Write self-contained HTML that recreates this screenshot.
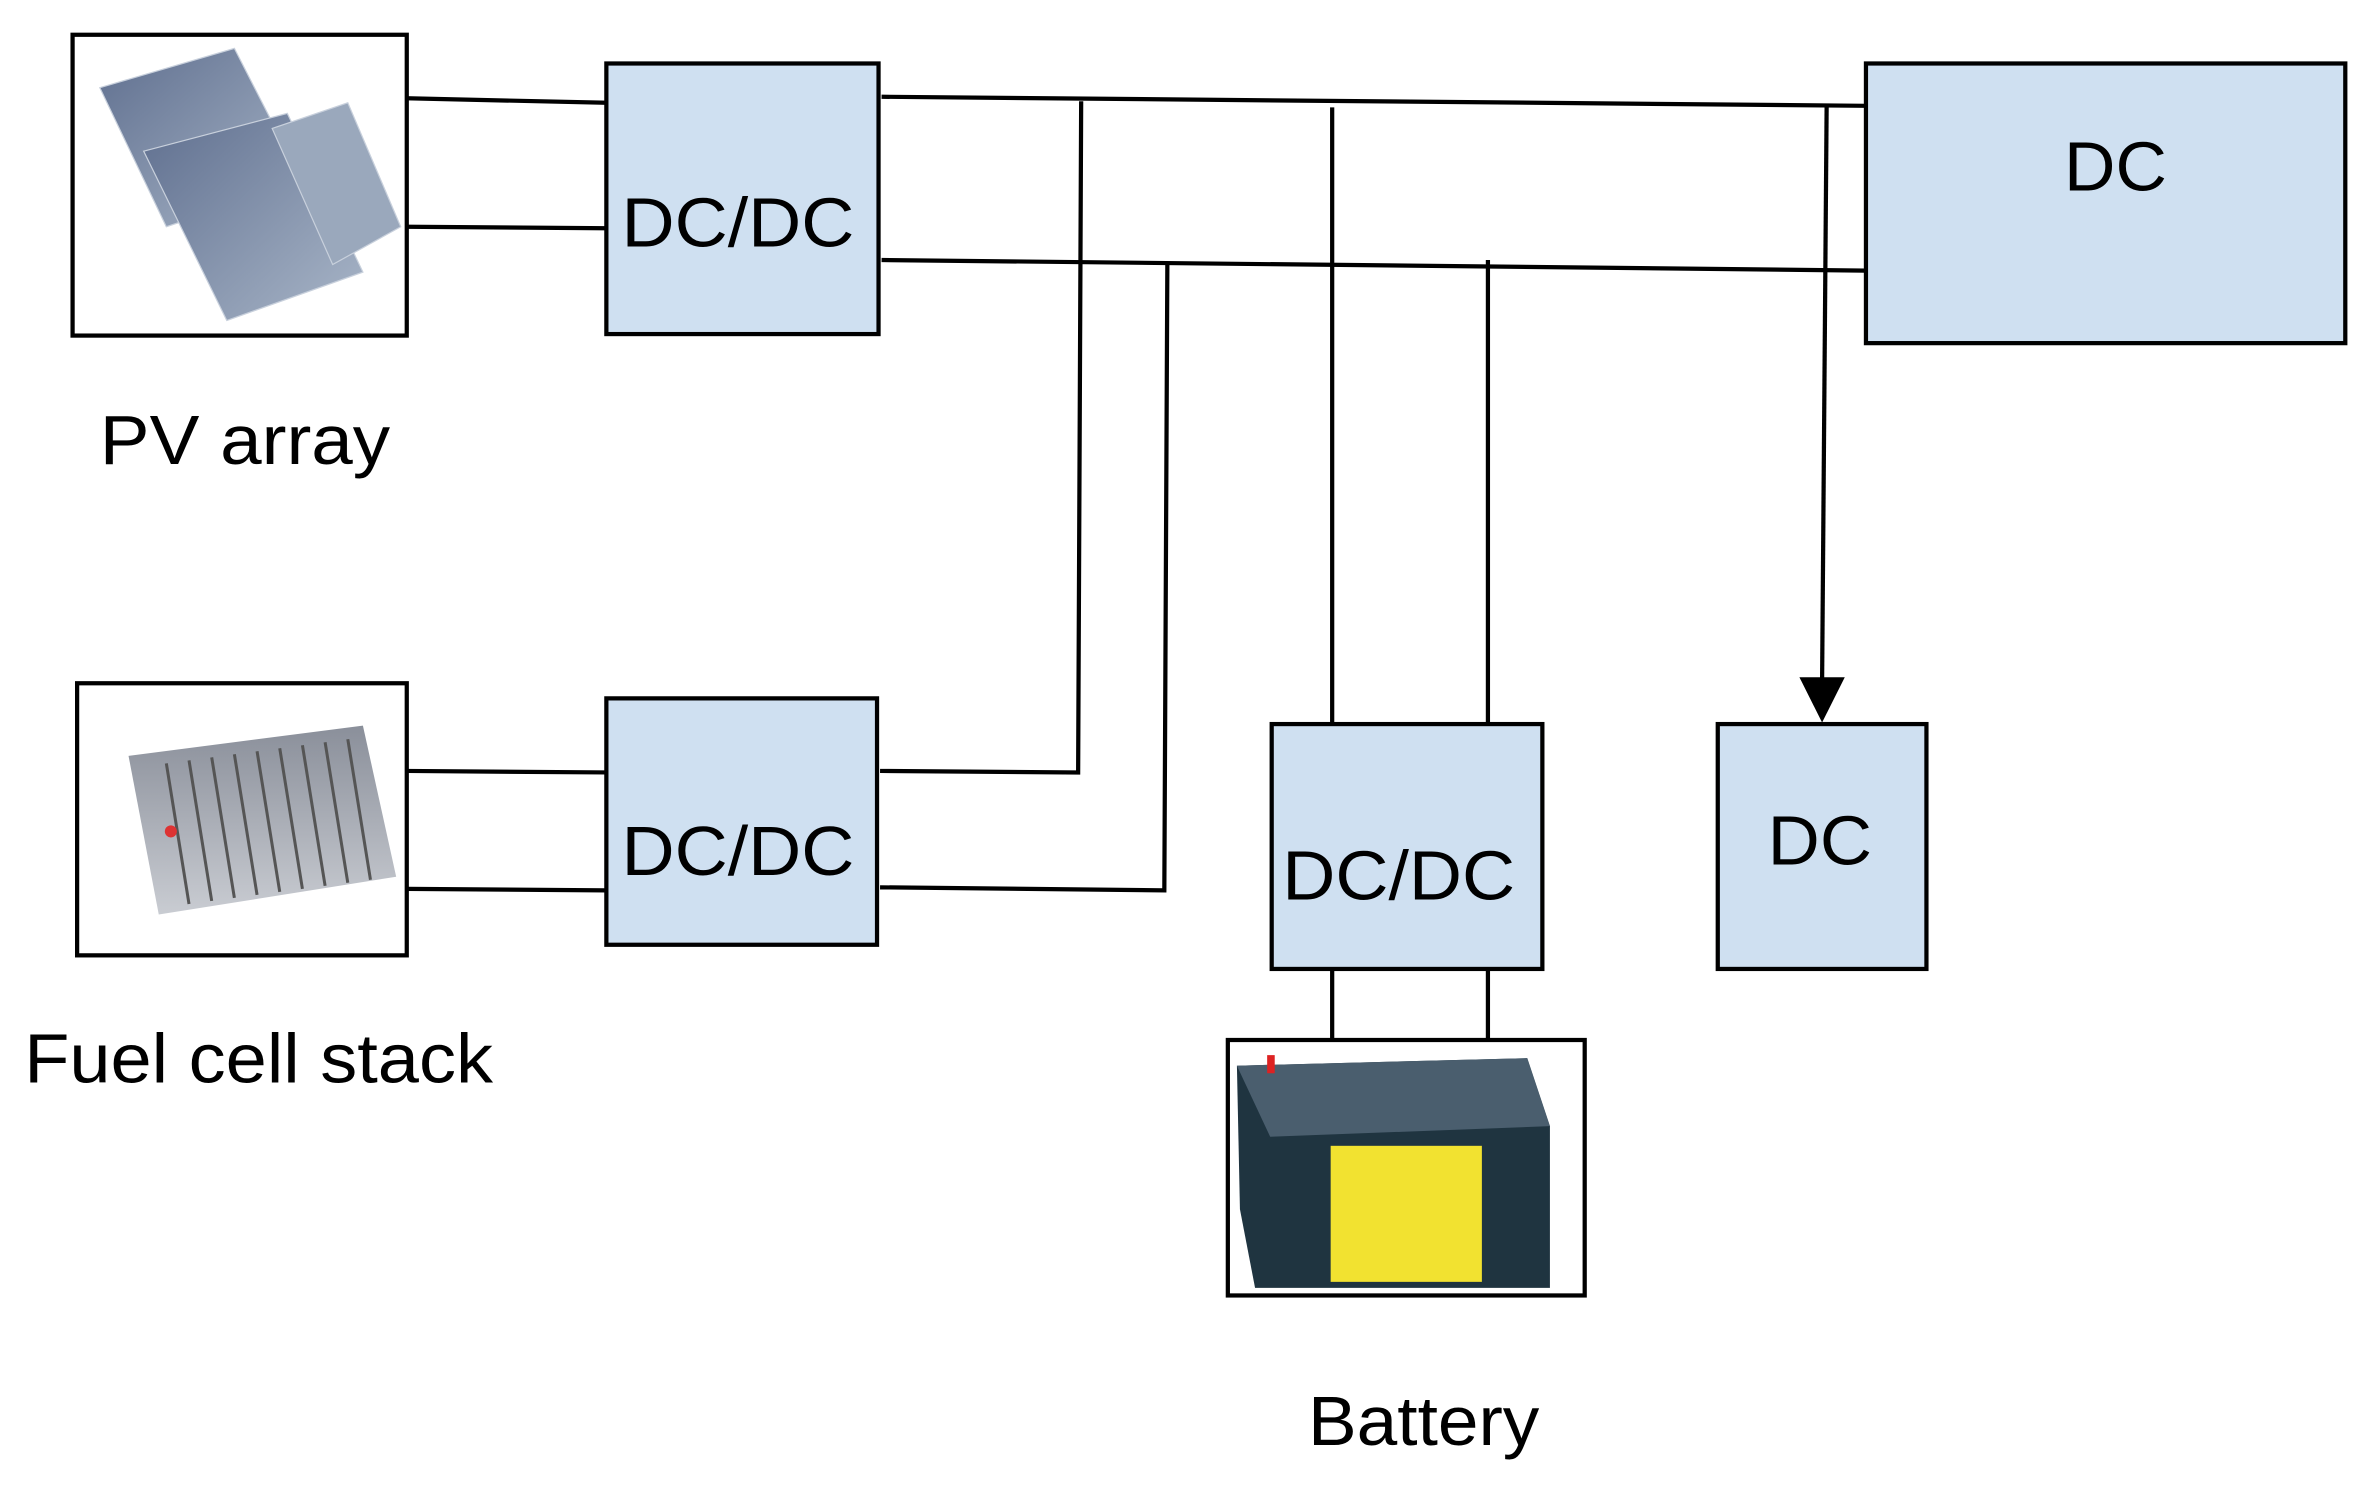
<!DOCTYPE html>
<html><head><meta charset="utf-8"><style>
html,body{margin:0;padding:0;background:#fff;}
svg{display:block;}
text{font-family:"Liberation Sans",Arial,sans-serif;fill:#000;}
</style></head><body>
<svg width="2371" height="1495" viewBox="0 0 1568 989" preserveAspectRatio="none" xmlns="http://www.w3.org/2000/svg">
<defs>
<linearGradient id="pv" x1="0" y1="0" x2="1" y2="1">
<stop offset="0" stop-color="#5f6f8f"/><stop offset="1" stop-color="#a9b6c8"/></linearGradient>
<linearGradient id="fc" x1="0" y1="0" x2="0" y2="1">
<stop offset="0" stop-color="#8a8f9a"/><stop offset="1" stop-color="#c9ccd2"/></linearGradient>
</defs>
<g fill="none" stroke="#000" stroke-width="2.8">
<rect x="48" y="23" width="221" height="199" fill="#fff"/>
</g>
<g stroke="#c8d0dc" stroke-width="0.8">
<polygon points="66,58 155,32 200,120 110,150" fill="url(#pv)"/>
<polygon points="95,100 190,75 240,180 150,212" fill="url(#pv)"/>
<polygon points="180,85 230,68 265,150 220,175" fill="#9aa8bc"/>
</g>
<g fill="#fff" stroke="#000" stroke-width="2.8">
<rect x="51" y="452" width="218" height="180"/>
<rect x="401" y="42" width="180" height="179" fill="#cfe0f1"/>
<rect x="1234" y="42" width="317" height="185" fill="#cfe0f1"/>
<rect x="401" y="462" width="179" height="163" fill="#cfe0f1"/>
<rect x="841" y="479" width="179" height="162" fill="#cfe0f1"/>
<rect x="1136" y="479" width="138" height="162" fill="#cfe0f1"/>
<rect x="812" y="688" width="236" height="169"/>
</g>
<g>
<polygon points="85,500 240,480 262,580 105,605" fill="url(#fc)"/>
<g stroke="#555" stroke-width="2">
<line x1="110" y1="505" x2="125" y2="598"/><line x1="125" y1="503" x2="140" y2="596"/>
<line x1="140" y1="501" x2="155" y2="594"/><line x1="155" y1="499" x2="170" y2="592"/>
<line x1="170" y1="497" x2="185" y2="590"/><line x1="185" y1="495" x2="200" y2="588"/>
<line x1="200" y1="493" x2="215" y2="586"/><line x1="215" y1="491" x2="230" y2="584"/>
<line x1="230" y1="489" x2="245" y2="582"/>
</g>
<circle cx="113" cy="550" r="4" fill="#d33"/>
</g>
<g>
<polygon points="818,705 1010,700 1025,745 1025,852 830,852 820,800" fill="#1f3440"/>
<polygon points="818,705 1010,700 1025,745 840,752" fill="#4a5e6e"/>
<rect x="880" y="758" width="100" height="90" fill="#f2e230"/>
<rect x="838" y="698" width="5" height="12" fill="#d22"/>
</g>
<g stroke="#000" stroke-width="2.8" fill="none">
<line x1="269" y1="65" x2="401" y2="68"/>
<line x1="269" y1="150" x2="401" y2="151"/>
<line x1="583" y1="64" x2="1234" y2="70"/>
<line x1="583" y1="172" x2="1234" y2="179"/>
<line x1="269" y1="510" x2="401" y2="511"/>
<line x1="269" y1="588" x2="401" y2="589"/>
<polyline points="582,510 713,511 715,67"/>
<polyline points="582,587 770,589 772,174"/>
<line x1="881" y1="71" x2="881" y2="479"/>
<line x1="984" y1="172" x2="984" y2="479"/>
<line x1="881" y1="641" x2="881" y2="688"/>
<line x1="984" y1="641" x2="984" y2="688"/>
<line x1="1208" y1="70" x2="1205" y2="450"/>
</g>
<polygon points="1190,448 1220,448 1205,478" fill="#000"/>
<g font-size="46">
<text x="411" y="163" textLength="154" lengthAdjust="spacingAndGlyphs">DC/DC</text>
<text x="411" y="579" textLength="154" lengthAdjust="spacingAndGlyphs">DC/DC</text>
<text x="848" y="595" textLength="154" lengthAdjust="spacingAndGlyphs">DC/DC</text>
<text x="1365" y="126" textLength="68" lengthAdjust="spacingAndGlyphs">DC</text>
<text x="1169" y="572" textLength="69" lengthAdjust="spacingAndGlyphs">DC</text>
<text x="66" y="307" textLength="192" lengthAdjust="spacingAndGlyphs">PV array</text>
<text x="16" y="716" textLength="310" lengthAdjust="spacingAndGlyphs">Fuel cell stack</text>
<text x="865" y="956" textLength="153" lengthAdjust="spacingAndGlyphs">Battery</text>
</g>
</svg>
</body></html>
